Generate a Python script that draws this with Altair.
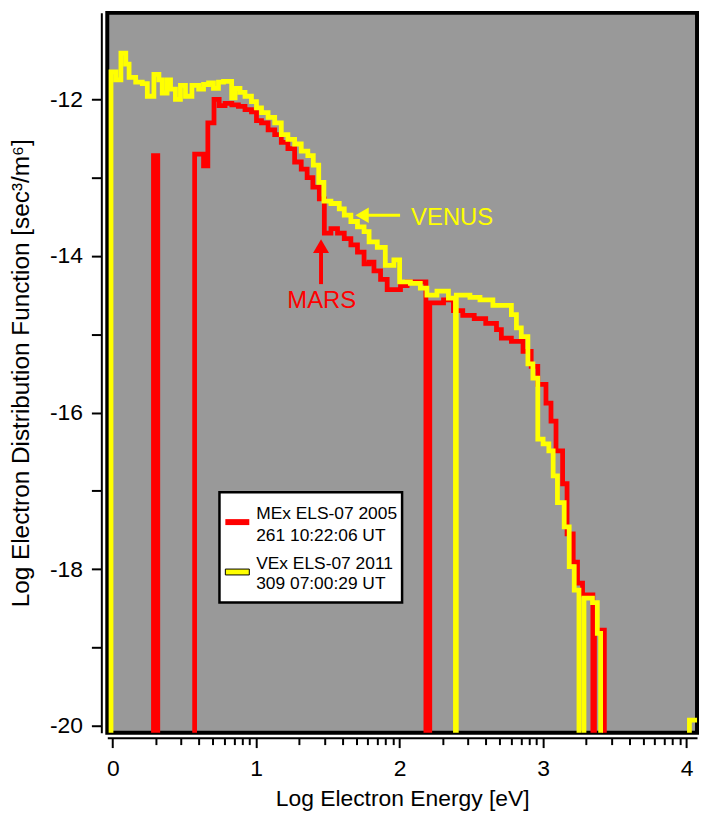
import altair as alt
import pandas as pd
import numpy as np

# ---------------- data ----------------
EMPTY = -30.0  # log f of an energy bin with no counts (falls below the axis floor)

# VEx ELS-07 2011 309 07:00:29 UT  (bin left edges, last value = right edge of last bin)
venus_edges = [-0.06, -0.012, 0.022, 0.057, 0.091, 0.114, 0.160, 0.206, 0.241, 0.287,
               0.322, 0.345, 0.379, 0.403, 0.437, 0.472, 0.507, 0.552, 0.599, 0.633,
               0.668, 0.702, 0.737, 0.772, 0.829, 0.853, 0.887, 0.922, 0.967, 1.002,
               1.037, 1.083, 1.129, 1.175, 1.221, 1.268, 1.314, 1.360, 1.398, 1.436,
               1.472, 1.521, 1.579, 1.614, 1.660, 1.706, 1.752, 1.787, 1.844, 1.900,
               1.960, 2.000, 2.075, 2.144, 2.190, 2.260, 2.340, 2.389, 2.395, 2.490,
               2.560, 2.650, 2.779, 2.814, 2.848, 2.894, 2.929, 2.963, 3.000, 3.040,
               3.070, 3.100, 3.147, 3.182, 3.217, 3.250, 3.285, 3.344, 3.378, 3.401,
               4.020, 4.100]
venus_logf = [EMPTY, -11.65, -11.75, -11.41, -11.55, -11.72, -11.78, -11.80, -11.96, -11.68,
              -11.75, -11.92, -11.75, -11.87, -12.00, -11.82, -11.96, -11.82, -11.87, -11.81,
              -11.79, -11.86, -11.78, -11.77, -11.98, -11.86, -11.91, -11.96, -12.03, -12.11,
              -12.17, -12.23, -12.30, -12.45, -12.51, -12.57, -12.66, -12.72, -12.84, -13.06,
              -13.30, -13.33, -13.40, -13.48, -13.56, -13.63, -13.69, -13.82, -13.89, -14.12,
              -14.05, -14.33, -14.35, -14.41, -14.50, -14.45, -14.54, EMPTY, -14.50, -14.53,
              -14.56, -14.63, -14.75, -14.92, -15.03, -15.38, -15.56, -16.34, -16.40, -16.49,
              -16.81, -17.15, -17.46, -17.97, -18.27, EMPTY, -18.37, -18.43, -18.82, EMPTY,
              -19.93]

# MEx ELS-07 2005 261 10:22:06 UT
mars_edges = [-0.06, 0.284, 0.314, 0.571, 0.633, 0.663, 0.706, 0.742, 0.783, 0.830,
              0.876, 0.922, 0.967, 1.002, 1.037, 1.083, 1.129, 1.175, 1.221, 1.268,
              1.314, 1.355, 1.395, 1.440, 1.475, 1.521, 1.567, 1.614, 1.660, 1.706,
              1.752, 1.787, 1.821, 1.867, 1.913, 2.006, 2.052, 2.183, 2.210, 2.306,
              2.375, 2.440, 2.520, 2.600, 2.675, 2.709, 2.779, 2.860, 2.917, 2.963,
              3.020, 3.055, 3.090, 3.136, 3.167, 3.210, 3.240, 3.275, 3.347, 3.358,
              3.427, 4.100]
mars_logf = [EMPTY, -12.72, EMPTY, -12.70, -12.85, -12.30, -12.00, -12.08, -12.05, -12.07,
             -12.09, -12.13, -12.16, -12.27, -12.30, -12.39, -12.45, -12.55, -12.63, -12.80,
             -12.89, -13.00, -13.12, -13.27, -13.71, -13.65, -13.71, -13.78, -13.86, -13.95,
             -14.10, -14.08, -14.19, -14.30, -14.43, -14.38, -14.33, EMPTY, -14.60, -14.56,
             -14.70, -14.76, -14.80, -14.86, -14.94, -15.05, -15.09, -15.22, -15.41, -15.64,
             -15.88, -16.11, -16.49, -16.91, -17.55, -17.91, -18.18, -18.33, EMPTY, -18.78,
             EMPTY]

legend_lines = [["MEx ELS-07 2005", "261 10:22:06 UT"], ["VEx ELS-07 2011", "309 07:00:29 UT"]]

x_ticks = [d + np.log10(k) for d in range(4) for k in range(1, 10)] + [4.0]
y_ticks = list(range(-20, -11))

RED = "#ff0000"
YELLOW = "#ffff00"
FONT = "Liberation Sans, Arial, Helvetica"


def step_table(edges, vals):
    rows = [{"energy": e, "logf": v, "k": i} for i, (e, v) in enumerate(zip(edges[:-1], vals))]
    rows.append({"energy": edges[-1], "logf": vals[-1], "k": len(vals)})
    return pd.DataFrame(rows)


xs = alt.Scale(domain=[-0.038, 4.073], nice=False, zero=False)
ys = alt.Scale(domain=[-20.09, -10.895], nice=False, zero=False)

is_int = "abs(datum.value - round(datum.value)) < 0.000001"

x_axis = alt.Axis(
    values=x_ticks, title="Log Electron Energy [eV]", offset=5,
    tickSize={"condition": {"test": is_int, "value": 10}, "value": 7},
    labelExpr=f"{is_int} ? format(round(datum.value), 'd') : ''",
    labelOverlap=False, labelFlush=False, grid=False,
    labelFont=FONT, labelFontSize=23, labelPadding=10, labelColor="black",
    titleFont=FONT, titleFontSize=23, titleFontWeight="normal", titlePadding=7,
    titleColor="black", domainColor="black", domainWidth=2, tickColor="black", tickWidth=2,
)
y_axis = alt.Axis(
    values=y_ticks, title="Log Electron Distribution Function [sec\u00b3/m\u2076]", offset=6,
    tickSize=10,
    labelExpr="datum.value % 2 == 0 ? '-' + format(abs(datum.value), 'd') : ''",
    labelOverlap=False, labelFlush=False, grid=False,
    labelFont=FONT, labelFontSize=23, labelPadding=9, labelColor="black",
    titleFont=FONT, titleFontSize=24.5, titleFontWeight="normal", titlePadding=16,
    titleColor="black", domainColor="black", domainWidth=2, tickColor="black", tickWidth=2,
)


def X(field="energy"):
    return alt.X(f"{field}:Q", scale=xs, axis=x_axis)


def Y(field="logf"):
    return alt.Y(f"{field}:Q", scale=ys, axis=y_axis)


mars_line = alt.Chart(step_table(mars_edges, mars_logf)).mark_line(
    interpolate="step-after", clip=True, color=RED, strokeWidth=4.8
).encode(x=X(), y=Y(), order="k:Q")

venus_line = alt.Chart(step_table(venus_edges, venus_logf)).mark_line(
    interpolate="step-after", clip=True, color=YELLOW, strokeWidth=4.8
).encode(x=X(), y=Y(), order="k:Q")

# ---- annotations (arrows + labels) ----
venus_shaft = alt.Chart(pd.DataFrame({"energy": [1.78], "energy2": [2.003], "logf": [-13.48]})).mark_rule(
    color=YELLOW, strokeWidth=3).encode(x=X(), x2="energy2:Q", y=Y())
venus_head = alt.Chart(pd.DataFrame({"energy": [1.738], "logf": [-13.48]})).mark_point(
    shape="triangle-left", filled=True, size=240, color=YELLOW, opacity=1, strokeWidth=0).encode(x=X(), y=Y())
venus_text = alt.Chart(pd.DataFrame({"energy": [2.08], "logf": [-13.52], "t": ["VENUS"]})).mark_text(
    align="left", baseline="middle", font=FONT, fontSize=24, color=YELLOW).encode(x=X(), y=Y(), text="t:N")

mars_shaft = alt.Chart(pd.DataFrame({"energy": [1.452], "logf": [-13.95], "logf2": [-14.36]})).mark_rule(
    color=RED, strokeWidth=4).encode(x=X(), y=Y(), y2="logf2:Q")
mars_head = alt.Chart(pd.DataFrame({"energy": [1.452], "logf": [-13.875]})).mark_point(
    shape="triangle-up", filled=True, size=260, color=RED, opacity=1, strokeWidth=0).encode(x=X(), y=Y())
mars_text = alt.Chart(pd.DataFrame({"energy": [1.457], "logf": [-14.58], "t": ["MARS"]})).mark_text(
    align="center", baseline="middle", font=FONT, fontSize=24, color=RED).encode(x=X(), y=Y(), text="t:N")

# ---- legend box ----
leg_box = alt.Chart(pd.DataFrame({"energy": [0.744], "energy2": [2.017], "logf": [-17.018], "logf2": [-18.428]})).mark_rect(
    fill="white", stroke="black", strokeWidth=2.5).encode(x=X(), x2="energy2:Q", y=Y(), y2="logf2:Q")
leg_red = alt.Chart(pd.DataFrame({"energy": [0.785], "energy2": [0.952], "logf": [-17.40]})).mark_rule(
    color=RED, strokeWidth=6).encode(x=X(), x2="energy2:Q", y=Y())
leg_yellow = alt.Chart(pd.DataFrame({"energy": [0.785], "energy2": [0.952], "logf": [-18.0], "logf2": [-18.075]})).mark_rect(
    fill=YELLOW, stroke="black", strokeWidth=1).encode(x=X(), x2="energy2:Q", y=Y(), y2="logf2:Q")
leg_text = alt.Chart(pd.DataFrame({
    "energy": [1.0, 1.0, 1.0, 1.0],
    "logf": [-17.365, -17.64, -18.0, -18.253],
    "t": legend_lines[0] + legend_lines[1],
})).mark_text(align="left", baseline="alphabetic", font=FONT, fontSize=17.5, color="black").encode(
    x=X(), y=Y(), text="t:N")

chart = alt.layer(
    mars_line, venus_line,
    venus_shaft, venus_head, venus_text,
    mars_shaft, mars_head, mars_text,
    leg_box, leg_red, leg_yellow, leg_text,
).properties(
    width=594, height=725,
    autosize=alt.AutoSizeParams(type="none"),
    padding={"left": 100, "top": 2, "right": 4, "bottom": 80},
    background="white",
).configure_view(
    stroke="black", strokeWidth=4, fill="#999999"
)

chart.save("out.html", embed_options={"renderer": "svg", "actions": False})
